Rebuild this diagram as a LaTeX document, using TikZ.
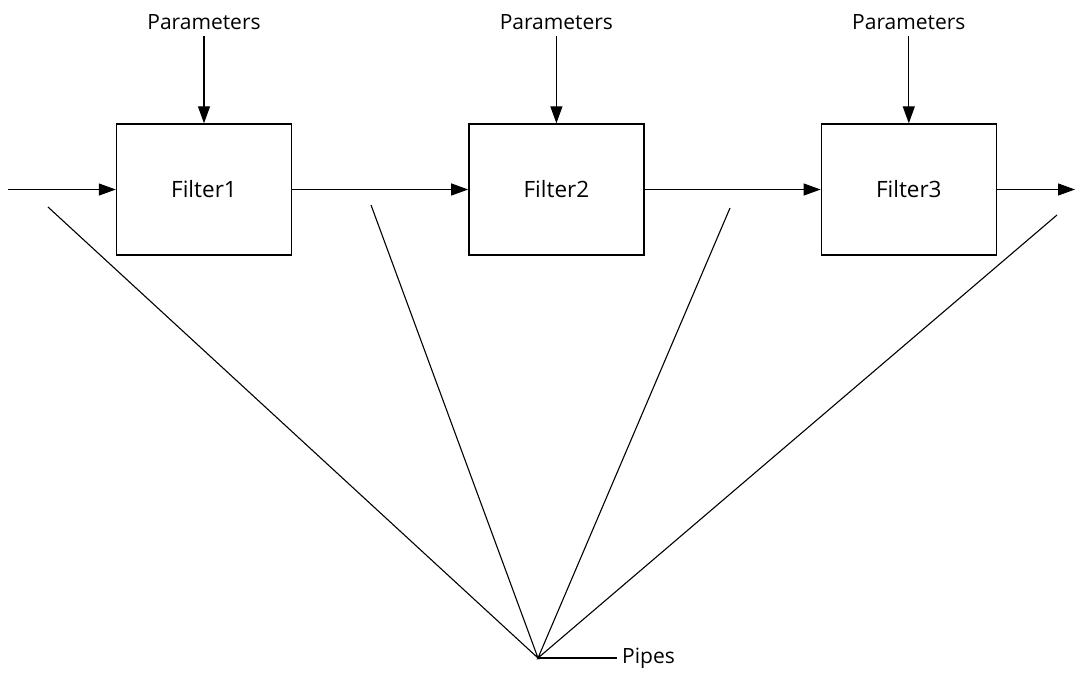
\documentclass[tikz,border=0pt]{standalone}
\usepackage{fontspec}
\setmainfont{Open Sans}
\usepackage{tikz}
\usetikzlibrary{arrows.meta,positioning}

\tikzset{
  filterbox/.style={draw, line width=1.4pt, minimum width=175pt, minimum height=131pt, inner sep=0pt, font=\fontsize{22.5}{27}\selectfont},
  paramlabel/.style={inner sep=0pt, outer sep=7pt},
  flow/.style={line width=1.2pt, -{Triangle[length=17pt, width=12pt]}},
  pipe/.style={line width=1.1pt}
}

\begin{document}
\begin{tikzpicture}[x=1pt, y=-1pt, every node/.style={font=\fontsize{21}{25}\selectfont}]
    \useasboundingbox (0,0) rectangle (1076,675);
    \node[filterbox] (f1) at (204,189.5) {Filter1};
    \node[filterbox, right=176pt of f1] (f2) {Filter2};
    \node[filterbox, right=176pt of f2] (f3) {Filter3};
    \node[paramlabel, anchor=base] (p1) at (204,29) {Parameters};
    \node[paramlabel, anchor=base] (p2) at (f2.north |- p1.base) {Parameters};
    \node[paramlabel, anchor=base] (p3) at (f3.north |- p1.base) {Parameters};
    \coordinate (in) at (8,189.5);
    \coordinate (out) at (1075,189.5);
    \draw[flow] (p1) -- (f1);
    \draw[flow] (p2) -- (f2);
    \draw[flow] (p3) -- (f3);
    \draw[flow] (in) -- (f1);
    \draw[flow] (f1) -- (f2);
    \draw[flow] (f2) -- (f3);
    \draw[flow] (f3) -- (out);
    % pipes
    \coordinate (hub) at (538,658);
    \coordinate (e1) at (48,207);
    \coordinate (e2) at (371,205);
    \coordinate (e3) at (730,208);
    \coordinate (e4) at (1057,215);
    \node[anchor=west, inner sep=5pt] (pipes) at (617,658) {Pipes};
    \draw[pipe] (e1) -- (hub) -- (e2);
    \draw[pipe] (e3) -- (hub) -- (e4);
    \draw[pipe] (hub) -- (pipes);
\end{tikzpicture}
\end{document}
